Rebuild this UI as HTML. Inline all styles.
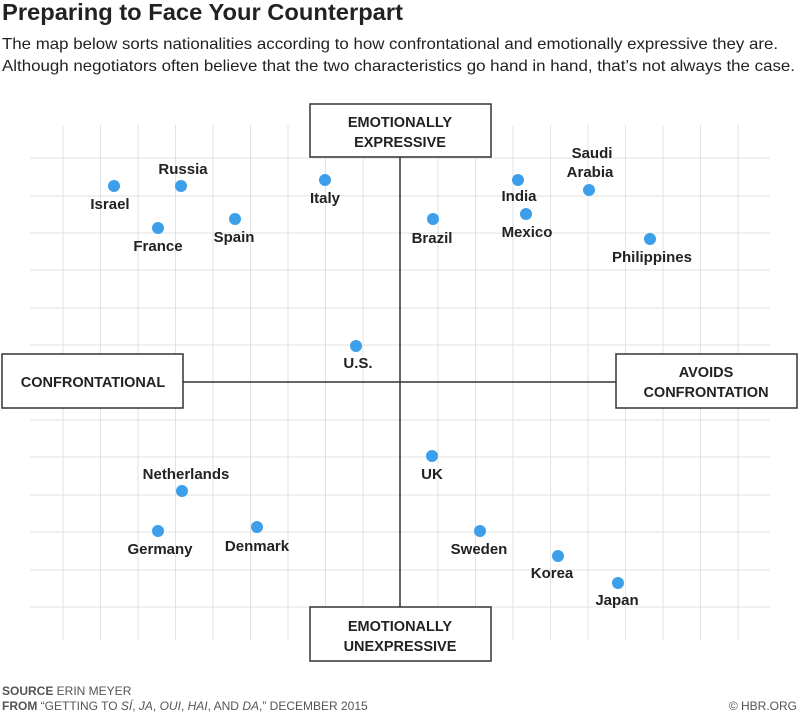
<!DOCTYPE html>
<html><head><meta charset="utf-8"><style>
body{margin:0;width:800px;height:713px;background:#fff;overflow:hidden;font-family:"Liberation Sans",sans-serif;}
</style></head><body>
<svg width="800" height="713" xmlns="http://www.w3.org/2000/svg" font-family="Liberation Sans, sans-serif">
<text x="2" y="20" font-size="23" font-weight="bold" fill="#222" textLength="401" lengthAdjust="spacingAndGlyphs">Preparing to Face Your Counterpart</text>
<text x="2" y="49" font-size="16" fill="#222" textLength="776" lengthAdjust="spacingAndGlyphs">The map below sorts nationalities according to how confrontational and emotionally expressive they are.</text>
<text x="2" y="71" font-size="16" fill="#222" textLength="793" lengthAdjust="spacingAndGlyphs">Although negotiators often believe that the two characteristics go hand in hand, that’s not always the case.</text>
<g stroke="#e2e2e2" stroke-width="1">
<line x1="63" y1="125" x2="63" y2="640"/><line x1="100.5" y1="125" x2="100.5" y2="640"/><line x1="138" y1="125" x2="138" y2="640"/><line x1="175.5" y1="125" x2="175.5" y2="640"/><line x1="213" y1="125" x2="213" y2="640"/><line x1="250.5" y1="125" x2="250.5" y2="640"/><line x1="288" y1="125" x2="288" y2="640"/><line x1="325.5" y1="125" x2="325.5" y2="640"/><line x1="363" y1="125" x2="363" y2="640"/><line x1="438" y1="125" x2="438" y2="640"/><line x1="475.5" y1="125" x2="475.5" y2="640"/><line x1="513" y1="125" x2="513" y2="640"/><line x1="550.5" y1="125" x2="550.5" y2="640"/><line x1="588" y1="125" x2="588" y2="640"/><line x1="625.5" y1="125" x2="625.5" y2="640"/><line x1="663" y1="125" x2="663" y2="640"/><line x1="700.5" y1="125" x2="700.5" y2="640"/><line x1="738" y1="125" x2="738" y2="640"/>
<line x1="30" y1="158" x2="770" y2="158"/><line x1="30" y1="196" x2="770" y2="196"/><line x1="30" y1="233" x2="770" y2="233"/><line x1="30" y1="270" x2="770" y2="270"/><line x1="30" y1="308" x2="770" y2="308"/><line x1="30" y1="345" x2="770" y2="345"/><line x1="30" y1="420" x2="770" y2="420"/><line x1="30" y1="457" x2="770" y2="457"/><line x1="30" y1="495" x2="770" y2="495"/><line x1="30" y1="532" x2="770" y2="532"/><line x1="30" y1="570" x2="770" y2="570"/><line x1="30" y1="607" x2="770" y2="607"/>
</g>
<g stroke="#333" stroke-width="1.5">
<line x1="400" y1="157" x2="400" y2="607"/><line x1="183" y1="382" x2="616" y2="382"/>
</g>
<g fill="#fff" stroke="#333" stroke-width="1.5">
<rect x="310" y="104" width="181" height="53"/><rect x="2" y="354" width="181" height="54"/><rect x="616" y="354" width="181" height="54"/><rect x="310" y="607" width="181" height="54"/>
</g>
<g font-size="14.5" font-weight="bold" fill="#222" text-anchor="middle">
<text x="400" y="127">EMOTIONALLY</text><text x="400" y="147">EXPRESSIVE</text>
<text x="93" y="387">CONFRONTATIONAL</text>
<text x="706" y="377">AVOIDS</text><text x="706" y="397">CONFRONTATION</text>
<text x="400" y="631">EMOTIONALLY</text><text x="400" y="651">UNEXPRESSIVE</text>
</g>
<g fill="#3d9fe9">
<circle cx="114" cy="186" r="6"/><circle cx="181" cy="186" r="6"/><circle cx="158" cy="228" r="6"/><circle cx="235" cy="219" r="6"/><circle cx="325" cy="180" r="6"/><circle cx="433" cy="219" r="6"/><circle cx="518" cy="180" r="6"/><circle cx="589" cy="190" r="6"/><circle cx="526" cy="214" r="6"/><circle cx="650" cy="239" r="6"/><circle cx="356" cy="346" r="6"/><circle cx="432" cy="456" r="6"/><circle cx="182" cy="491" r="6"/><circle cx="158" cy="531" r="6"/><circle cx="257" cy="527" r="6"/><circle cx="480" cy="531" r="6"/><circle cx="558" cy="556" r="6"/><circle cx="618" cy="583" r="6"/>
</g>
<g font-size="15" font-weight="bold" fill="#222" text-anchor="middle">
<text x="110" y="209">Israel</text><text x="183" y="174">Russia</text><text x="158" y="251">France</text><text x="234" y="242">Spain</text><text x="325" y="203">Italy</text><text x="432" y="243">Brazil</text><text x="519" y="201">India</text><text x="592" y="158">Saudi</text><text x="590" y="177">Arabia</text><text x="527" y="237">Mexico</text><text x="652" y="262">Philippines</text><text x="358" y="368">U.S.</text><text x="432" y="479">UK</text><text x="186" y="479">Netherlands</text><text x="160" y="554">Germany</text><text x="257" y="551">Denmark</text><text x="479" y="554">Sweden</text><text x="552" y="578">Korea</text><text x="617" y="605">Japan</text>
</g>
<g font-size="12" fill="#555">
<text x="2" y="695"><tspan font-weight="bold">SOURCE</tspan>  ERIN MEYER</text>
<text x="2" y="710"><tspan font-weight="bold">FROM</tspan>  “GETTING TO <tspan font-style="italic">SÍ</tspan>, <tspan font-style="italic">JA</tspan>, <tspan font-style="italic">OUI</tspan>, <tspan font-style="italic">HAI</tspan>, AND <tspan font-style="italic">DA</tspan>,” DECEMBER 2015</text>
<text x="797" y="710" text-anchor="end">© HBR.ORG</text>
</g>
</svg>
</body></html>
